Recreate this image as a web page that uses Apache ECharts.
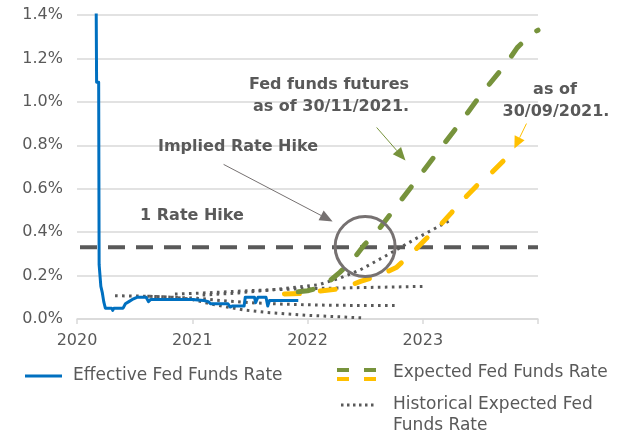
<!DOCTYPE html>
<html>
<head>
<meta charset="utf-8">
<script src="https://cdn.jsdelivr.net/npm/echarts@6/dist/echarts.min.js"></script>
<style>
  html, body { margin: 0; padding: 0; background: #ffffff; }
  #chart { width: 632px; height: 434px; }
</style>
</head>
<body>
<div id="chart"></div>
<script>
// Time on the x axis is in decimal years, rates in percent.
const yearTicks = [2020, 2021, 2022, 2023, 2024];
const rateTicks = [0, 0.2, 0.4, 0.6, 0.8, 1.0, 1.2, 1.4];

// Effective Fed Funds Rate (daily history, clipped at the top of the axis)
const effectiveRate = [
  [2020.165, 1.58], [2020.170, 1.09], [2020.188, 1.09], [2020.192, 0.25],
  [2020.200, 0.25], [2020.207, 0.15], [2020.220, 0.12], [2020.232, 0.08],
  [2020.246, 0.05], [2020.300, 0.05], [2020.310, 0.04], [2020.320, 0.05],
  [2020.400, 0.05], [2020.420, 0.07], [2020.450, 0.08], [2020.480, 0.09],
  [2020.520, 0.10], [2020.600, 0.10], [2020.620, 0.08], [2020.640, 0.09],
  [2020.800, 0.09], [2021.000, 0.09], [2021.100, 0.085], [2021.140, 0.08],
  [2021.160, 0.07], [2021.310, 0.07], [2021.330, 0.055], [2021.350, 0.06],
  [2021.450, 0.06], [2021.460, 0.10], [2021.540, 0.10], [2021.550, 0.075],
  [2021.570, 0.10], [2021.640, 0.10], [2021.655, 0.06], [2021.670, 0.085],
  [2021.920, 0.085]
];

// Expected path from fed funds futures as of 30/11/2021
const expectedNov = [
  [2021.92, 0.125], [2022.00, 0.13], [2022.13, 0.147], [2022.28, 0.215],
  [2022.39, 0.27], [2022.49, 0.34], [2022.60, 0.40], [2022.91, 0.615],
  [2023.12, 0.762], [2023.32, 0.90], [2023.52, 1.044], [2023.73, 1.18],
  [2023.82, 1.25], [2023.95, 1.316], [2024.00, 1.33]
];

// Expected path from fed funds futures as of 30/09/2021
const expectedSep = [
  [2021.80, 0.115], [2021.96, 0.118], [2022.10, 0.128], [2022.30, 0.14],
  [2022.46, 0.173], [2022.62, 0.20], [2022.77, 0.237], [2022.90, 0.30],
  [2023.02, 0.365], [2023.13, 0.42], [2023.25, 0.49], [2023.36, 0.555],
  [2023.47, 0.615], [2023.60, 0.675], [2023.74, 0.75]
];

// Earlier futures-implied paths
const historical1 = [
  [2020.33, 0.107], [2020.60, 0.105], [2020.85, 0.10], [2021.00, 0.09],
  [2021.13, 0.073], [2021.30, 0.055], [2021.47, 0.04], [2021.65, 0.03],
  [2022.00, 0.017], [2022.48, 0.005]
];
const historical2 = [
  [2020.61, 0.105], [2020.85, 0.10], [2021.05, 0.095], [2021.25, 0.085],
  [2021.50, 0.075], [2021.80, 0.068], [2022.20, 0.063], [2022.76, 0.062]
];
const historical3 = [
  [2020.85, 0.115], [2021.10, 0.12], [2021.40, 0.128], [2021.70, 0.135],
  [2022.00, 0.14], [2022.50, 0.145], [2023.00, 0.15]
];
const historical4 = [
  [2021.09, 0.11], [2021.40, 0.12], [2021.70, 0.135], [2021.93, 0.148],
  [2022.10, 0.158], [2022.29, 0.19], [2022.36, 0.205], [2022.47, 0.23],
  [2022.71, 0.30], [2022.94, 0.37], [2023.24, 0.455]
];

// Level of one 25bp hike
const rateHikeLevel = 0.33;
const rateHikeLine = [[2020.0, rateHikeLevel], [2024.0, rateHikeLevel]];

const GREY = '#595959';
const FONT = '"DejaVu Sans", Verdana, sans-serif';

const chart = echarts.init(document.getElementById('chart'), null, { renderer: 'canvas' });

function dotted(data) {
  return {
    type: 'line', data, symbol: 'none', silent: true, z: 3,
    lineStyle: { color: GREY, width: 3, type: [2.6, 4.4] }
  };
}

chart.setOption({
  animation: false,
  backgroundColor: '#ffffff',
  grid: { left: 77, right: 94, top: 15, bottom: 115 },
  xAxis: {
    type: 'value',
    min: yearTicks[0],
    max: yearTicks[yearTicks.length - 1],
    interval: 1,
    axisLine: { show: true, lineStyle: { color: '#d9d9d9', width: 1.5 } },
    axisTick: { show: true, length: 5, lineStyle: { color: '#d9d9d9', width: 1.5 } },
    splitLine: { show: false },
    axisLabel: {
      margin: 14, color: GREY, fontSize: 16, fontFamily: FONT,
      formatter: v => (v === yearTicks[yearTicks.length - 1] ? '' : String(v))
    }
  },
  yAxis: {
    type: 'value',
    min: rateTicks[0],
    max: rateTicks[rateTicks.length - 1],
    interval: 0.2,
    axisLine: { show: false },
    axisTick: { show: false },
    splitLine: { show: true, lineStyle: { color: '#d9d9d9', width: 1.5 } },
    axisLabel: {
      margin: 14, color: GREY, fontSize: 16, fontFamily: FONT,
      formatter: v => v.toFixed(1) + '%'
    }
  },
  series: [
    {
      type: 'line', data: rateHikeLine, symbol: 'none', silent: true, z: 2,
      lineStyle: { color: GREY, width: 4, type: [17, 11], dashOffset: -3 }
    },
    dotted(historical1),
    dotted(historical2),
    dotted(historical3),
    dotted(historical4),
    {
      type: 'line', data: expectedSep, symbol: 'none', silent: true, z: 4,
      lineStyle: { color: '#FFC000', width: 5, type: [15, 21], cap: 'round' }
    },
    {
      type: 'line', data: expectedNov, symbol: 'none', silent: true, z: 5,
      lineStyle: { color: '#77933C', width: 5, type: [15, 21], cap: 'round' }
    },
    {
      type: 'line', data: effectiveRate, symbol: 'none', silent: true, z: 6,
      lineStyle: { color: '#0070C0', width: 3, join: 'round' }
    }
  ]
});

// Annotations: circle and arrows anchored to data coordinates
function px(x, y) {
  return chart.convertToPixel({ xAxisIndex: 0, yAxisIndex: 0 }, [x, y]);
}

function arrow(from, to, color, width, headLen, headW) {
  const a = px(from[0], from[1]);
  const b = px(to[0], to[1]);
  const dx = b[0] - a[0], dy = b[1] - a[1];
  const len = Math.hypot(dx, dy);
  const ux = dx / len, uy = dy / len;
  const base = [b[0] - ux * headLen, b[1] - uy * headLen];
  const nx = -uy, ny = ux;
  return [
    { type: 'line', silent: true, z: 20,
      shape: { x1: a[0], y1: a[1], x2: base[0], y2: base[1] },
      style: { stroke: color, lineWidth: width } },
    { type: 'polygon', silent: true, z: 20,
      shape: { points: [b,
        [base[0] + nx * headW / 2, base[1] + ny * headW / 2],
        [base[0] - nx * headW / 2, base[1] - ny * headW / 2]] },
      style: { fill: color } }
  ];
}

function label(text, x, y) {
  return {
    type: 'text', x, y, silent: true, z: 20,
    style: {
      text, fill: GREY, font: 'bold 16px ' + FONT,
      align: 'center', verticalAlign: 'middle'
    }
  };
}

function legendText(text, x, y) {
  return {
    type: 'text', silent: true, x, y,
    style: { text, fill: GREY, font: '17px ' + FONT, align: 'left', verticalAlign: 'middle' }
  };
}

const centre = px(2022.5, 0.334);
const graphics = [
  { type: 'circle', silent: true, z: 20,
    shape: { cx: centre[0], cy: centre[1], r: 30 },
    style: { fill: 'none', stroke: '#767171', lineWidth: 3 } },
  ...arrow([2021.272, 0.712], [2022.218, 0.449], '#767171', 1, 13, 11),
  ...arrow([2022.60, 0.882], [2022.85, 0.730], '#77933C', 1, 13, 11),
  ...arrow([2023.90, 0.90], [2023.795, 0.785], '#FFC000', 1, 12, 11),

  label('Fed funds futures', 329, 85),
  label('as of 30/11/2021.', 331, 107),
  label('Implied Rate Hike', 238, 147),
  label('1 Rate Hike', 192, 216),
  label('as of', 555, 90),
  label('30/09/2021.', 556, 112),

  // Legend
  { type: 'line', silent: true, shape: { x1: 25, y1: 376, x2: 62, y2: 376 },
    style: { stroke: '#0070C0', lineWidth: 3 } },
  legendText('Effective Fed Funds Rate', 73, 376),
  { type: 'line', silent: true, shape: { x1: 337, y1: 370, x2: 377, y2: 370 },
    style: { stroke: '#77933C', lineWidth: 4, lineDash: [12, 15] } },
  { type: 'line', silent: true, shape: { x1: 337, y1: 379, x2: 377, y2: 379 },
    style: { stroke: '#FFC000', lineWidth: 4, lineDash: [12, 15] } },
  legendText('Expected Fed Funds Rate', 393, 373),
  { type: 'line', silent: true, shape: { x1: 341, y1: 405, x2: 377, y2: 405 },
    style: { stroke: GREY, lineWidth: 3, lineDash: [2.5, 3.5] } },
  legendText('Historical Expected Fed', 393, 405),
  legendText('Funds Rate', 393, 426)
];

chart.setOption({ graphic: graphics });
</script>
</body>
</html>
